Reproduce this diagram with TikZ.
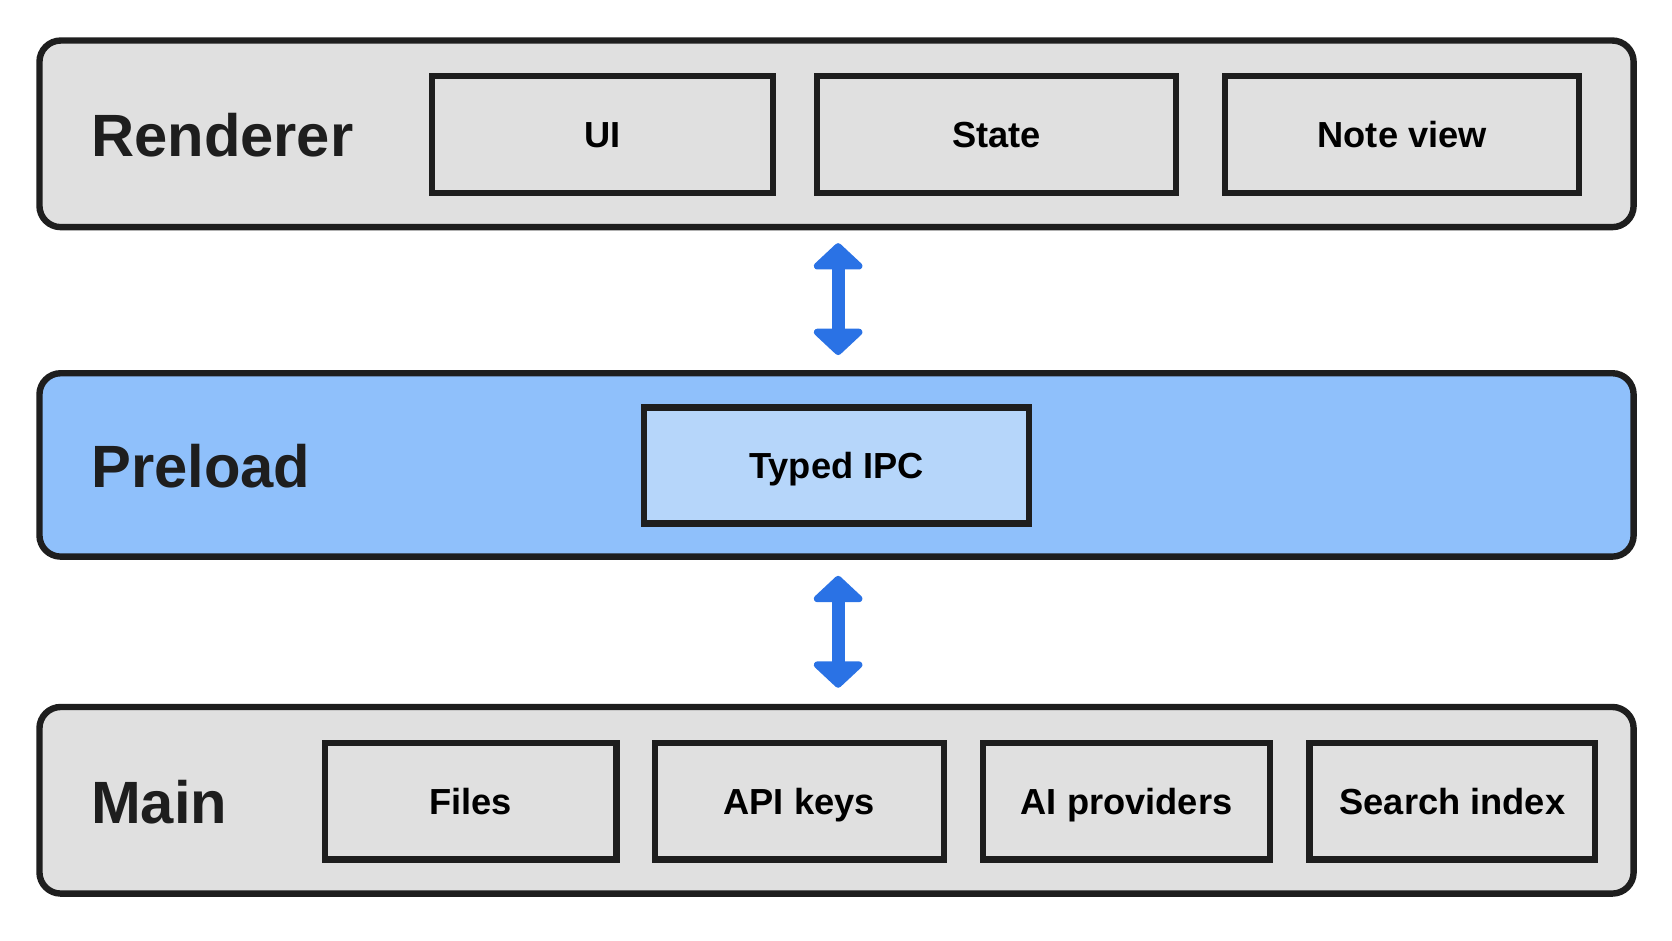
\documentclass[tikz,border=0pt]{standalone}
\usepackage{fontspec}
\setmainfont{Liberation Sans}
\usetikzlibrary{arrows.meta}
\definecolor{lgray}{HTML}{E0E0E0}
\definecolor{pblue}{HTML}{8FC0FB}
\definecolor{ipcblue}{HTML}{B6D6FA}
\definecolor{ablue}{HTML}{2A72E5}
\definecolor{ink}{HTML}{1E1E1E}
\begin{document}
\begin{tikzpicture}[x=1pt,y=-1pt,
  layer/.style={draw=ink,line width=6pt,rounded corners=20pt},
  box/.style={draw=ink,line width=6pt,fill=lgray,inner sep=0pt,text height=28pt,text depth=4pt,font=\bfseries\fontsize{34}{40}\selectfont},
  ttl/.style={anchor=west,font=\bfseries\fontsize{56}{64}\selectfont,text=ink},
  arr/.style={ablue,line width=12pt,{Triangle[length=26pt,width=54pt,round]}-{Triangle[length=26pt,width=54pt,round]}}]
\useasboundingbox (0,0) rectangle (1568,882);
\draw[layer,fill=lgray] (37,38) rectangle (1532,213);
\node[ttl] (rt) at (82,127) {Renderer};
\node[box,minimum width=320pt,minimum height=110pt] (ui) at (565,126) {UI};
\node[box,minimum width=337pt,minimum height=110pt] (st) at (934.5,126) {State};
\node[box,minimum width=332pt,minimum height=110pt] (nv) at (1315,126) {Note view};
\draw[layer,fill=pblue] (37,350) rectangle (1532,522);
\node[ttl] (pt) at (82,437) {Preload};
\node[box,fill=ipcblue,minimum width=361pt,minimum height=109pt] (ipc) at (784.5,436.5) {Typed IPC};
\draw[layer,fill=lgray] (37,663) rectangle (1532,838);
\node[ttl] (mt) at (82,752) {Main};
\node[box,minimum width=273pt,minimum height=109pt] (f) at (441.5,751.5) {Files};
\node[box,minimum width=271pt,minimum height=109pt] (k) at (749.5,751.5) {API keys};
\node[box,minimum width=269pt,minimum height=109pt] (ai) at (1056.5,751.5) {AI providers};
\node[box,minimum width=268pt,minimum height=109pt] (si) at (1362,751.5) {Search index};
\coordinate (a1) at (786,228); \coordinate (a2) at (786,333);
\coordinate (b1) at (786,540); \coordinate (b2) at (786,645);
\draw[arr] (a1) -- (a2);
\draw[arr] (b1) -- (b2);
\end{tikzpicture}
\end{document}
